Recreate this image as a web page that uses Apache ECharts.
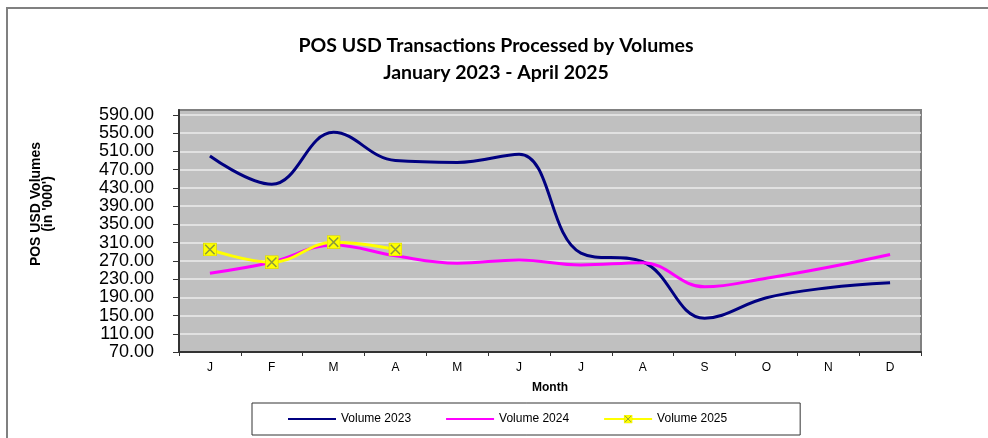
<!DOCTYPE html>
<html>
<head>
<meta charset="utf-8">
<script src="https://cdn.jsdelivr.net/npm/echarts@6/dist/echarts.min.js"></script>
<style>
  html, body { margin: 0; padding: 0; background: #ffffff; }
  #chart { width: 988px; height: 438px; }
</style>
</head>
<body>
<div id="chart"></div>
<script>
// Month initials along the category axis
const months = ['J', 'F', 'M', 'A', 'M', 'J', 'J', 'A', 'S', 'O', 'N', 'D'];

// Monthly POS USD transaction volumes (in '000)
const volume2023 = [500, 438, 552, 490, 486, 504, 287, 268, 144, 189, 211, 222];
const volume2024 = [243, 267, 305, 281, 265, 272, 261, 266, 213, 232, 256, 284];
const volume2025 = [295, 267, 311, 295];

// Value-axis tick labels
const yTicks = [70, 110, 150, 190, 230, 270, 310, 350, 390, 430, 470, 510, 550, 590];

const FONT = "'Liberation Sans', Arial, sans-serif";

// Yellow square marker with an olive cross
const markerSvg =
  "<svg xmlns='http://www.w3.org/2000/svg' width='28' height='28' viewBox='0 0 14 14'>" +
  "<rect x='0.5' y='0.5' width='13' height='13' fill='#ffff00' stroke='#d8d800' stroke-width='0.8'/>" +
  "<path d='M2.3 2.3L11.7 11.7M11.7 2.3L2.3 11.7' stroke='#8c9a3c' stroke-width='1.5'/>" +
  "</svg>";
const markerSymbol = 'image://data:image/svg+xml;charset=utf-8,' + encodeURIComponent(markerSvg);

const chart = echarts.init(document.getElementById('chart'), null, { renderer: 'canvas' });

chart.setOption({
  animation: false,
  backgroundColor: '#ffffff',
  title: {
    text: 'POS USD Transactions Processed by Volumes\nJanuary 2023 - April 2025',
    left: 491,
    top: 27,
    textAlign: 'center',
    textStyle: {
      fontFamily: "Lato, 'Open Sans', sans-serif",
      fontWeight: 'bold',
      fontSize: 19.5,
      lineHeight: 27,
      color: '#000000'
    }
  },
  graphic: [
    {
      type: 'rect',
      silent: true,
      shape: { x: 7, y: 8, width: 1000, height: 460 },
      style: { fill: 'none', stroke: '#808080', lineWidth: 2 }
    },
    {
      type: 'text',
      silent: true,
      x: 42,
      y: 204,
      rotation: Math.PI / 2,
      style: {
        text: "POS USD Volumes\n(in '000')",
        fontFamily: FONT,
        fontWeight: 'bold',
        fontSize: 14,
        lineHeight: 12,
        align: 'center',
        verticalAlign: 'middle',
        fill: '#000000'
      }
    }
  ],
  legend: {
    left: 252,
    top: 403,
    orient: 'horizontal',
    itemWidth: 48,
    itemHeight: 11,
    itemGap: 34,
    padding: [10, 73, 10, 35],
    borderColor: '#333333',
    borderWidth: 1,
    backgroundColor: '#ffffff',
    textStyle: { fontFamily: FONT, fontSize: 12, color: '#000000' },
    data: [
      { name: 'Volume 2023', itemStyle: { opacity: 0 } },
      { name: 'Volume 2024', itemStyle: { opacity: 0 } },
      { name: 'Volume 2025' }
    ]
  },
  grid: {
    left: 179,
    right: 67,
    top: 110,
    bottom: 86,
    show: true,
    backgroundColor: '#c0c0c0',
    borderColor: '#808080',
    borderWidth: 2
  },
  xAxis: {
    type: 'category',
    data: months,
    boundaryGap: true,
    name: 'Month',
    nameLocation: 'middle',
    nameGap: 30,
    nameTextStyle: { fontFamily: FONT, fontWeight: 'bold', fontSize: 12, color: '#000000' },
    axisLine: { show: true, lineStyle: { color: '#333333', width: 2 } },
    axisTick: { show: true, length: 4, lineStyle: { color: '#333333', width: 1 } },
    axisLabel: { margin: 10, fontFamily: FONT, fontSize: 12, color: '#000000' },
    splitLine: { show: false }
  },
  yAxis: {
    type: 'value',
    min: 70,
    max: 601,
    axisLine: { show: true, lineStyle: { color: '#333333', width: 2 } },
    axisTick: { show: true, length: 6, customValues: yTicks, lineStyle: { color: '#333333', width: 1 } },
    axisLabel: {
      customValues: yTicks,
      hideOverlap: false,
      showMinLabel: true,
      showMaxLabel: true,
      margin: 25,
      fontFamily: FONT,
      fontSize: 18,
      lineHeight: 18,
      color: '#000000',
      formatter: v => v.toFixed(2)
    },
    splitLine: { show: true, lineStyle: { color: '#ececec', width: 1.5 } }
  },
  series: [
    {
      name: 'Volume 2023',
      type: 'line',
      data: volume2023,
      smooth: 0.4,
      symbol: 'none',
      lineStyle: { color: '#000080', width: 3 },
      itemStyle: { color: '#000080' },
      z: 3
    },
    {
      name: 'Volume 2024',
      type: 'line',
      data: volume2024,
      smooth: 0.4,
      symbol: 'none',
      lineStyle: { color: '#ff00ff', width: 3 },
      itemStyle: { color: '#ff00ff' },
      z: 4
    },
    {
      name: 'Volume 2025',
      type: 'line',
      data: volume2025,
      smooth: 0.4,
      symbol: markerSymbol,
      symbolSize: 14,
      showAllSymbol: true,
      lineStyle: { color: '#ffff00', width: 3 },
      itemStyle: { color: '#ffff00' },
      z: 5
    }
  ]
});
</script>
</body>
</html>
